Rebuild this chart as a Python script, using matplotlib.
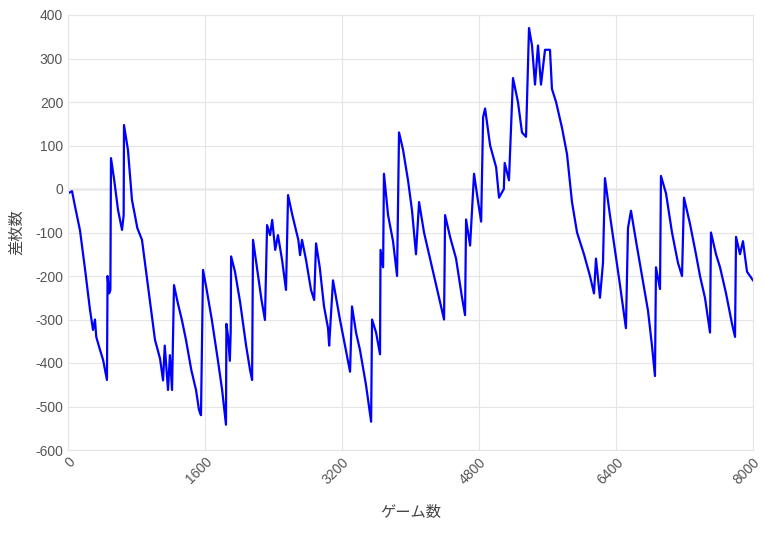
import matplotlib
matplotlib.use('Agg')
import matplotlib.pyplot as plt

plt.rcParams['font.family'] = ['Liberation Sans', 'Noto Sans CJK JP', 'DejaVu Sans']
plt.rcParams['axes.unicode_minus'] = False

# game count / coin difference
games = [0, 47, 82, 140, 200, 257, 292, 315, 330, 374, 410, 455, 462, 480, 495, 502, 540, 584, 631, 650, 654,
         700, 747, 810, 864, 940, 1016, 1075, 1110, 1130, 1168, 1190, 1215, 1238, 1280, 1330, 1378, 1440, 1495,
         1530, 1553, 1577, 1620, 1680, 1750, 1800, 1845, 1850, 1870, 1890, 1900, 1905, 1950, 2010, 2080, 2126,
         2150, 2161, 2210, 2260, 2300, 2325, 2360, 2385, 2420, 2452, 2500, 2546, 2570, 2620, 2690, 2710, 2733,
         2780, 2838, 2875, 2897, 2940, 2990, 3037, 3050, 3095, 3176, 3294, 3317, 3364, 3410, 3480, 3540, 3551,
         3598, 3644, 3650, 3680, 3690, 3738, 3796, 3843, 3866, 3913, 3971, 4018, 4064, 4100, 4158, 4228, 4298,
         4357, 4392, 4404, 4462, 4532, 4602, 4637, 4649, 4696, 4742, 4790, 4825, 4848, 4871, 4930, 5000, 5034,
         5090, 5100, 5150, 5197, 5255, 5302, 5349, 5384, 5419, 5454, 5489, 5524, 5571, 5629, 5652, 5700, 5770,
         5828, 5886, 5945, 6026, 6096, 6143, 6166, 6213, 6248, 6271, 6329, 6388, 6446, 6516, 6540, 6575, 6634,
         6704, 6774, 6820, 6855, 6867, 6914, 6925, 6984, 7054, 7124, 7171, 7194, 7264, 7334, 7381, 7439, 7498,
         7509, 7568, 7615, 7685, 7755, 7790, 7802, 7848, 7883, 7930, 8000]
diff = [-10, -5, -40, -95, -186, -278, -324, -300, -340, -370, -393, -439, -200, -240, -232, 71, 20, -48, -94, -60, 147,
        90, -25, -90, -117, -232, -347, -390, -440, -360, -462, -382, -462, -221, -260, -301, -347, -416, -462,
        -508, -520, -186, -232, -301, -393, -462, -542, -310, -340, -395, -330, -155, -190, -260, -360, -416,
        -439, -117, -186, -255, -301, -83, -106, -71, -140, -106, -163, -232, -14, -60, -117, -152, -117,
        -163, -232, -255, -125, -180, -270, -320, -360, -210, -300, -420, -270, -330, -370, -450, -535, -300,
        -330, -380, -140, -180, 35, -60, -120, -200, 130, 90, 20, -50, -150, -30, -100, -160, -220,
        -270, -300, -60, -110, -160, -250, -290, -70, -130, 35, -30, -75, 165, 185, 100, 50, -20,
        0, 60, 20, 255, 200, 130, 120, 370, 330, 240, 330, 240, 320, 320, 230, 200, 140,
        80, -30, -100, -150, -200, -240, -160, -250, -170, 25, -60, -140, -220, -320, -90, -50, -120,
        -200, -280, -360, -430, -180, -230, 30, -10, -100, -170, -200, -20, -80, -150, -200, -250, -330,
        -100, -150, -180, -240, -310, -340, -110, -150, -120, -190, -210]
x_ticks = [0, 1600, 3200, 4800, 6400, 8000]

fig = plt.figure(figsize=(7.65, 5.34), dpi=100)
ax = fig.add_axes([68 / 765, 84 / 534, 685 / 765, 435 / 534])
ax.plot(games, diff, color='#0000ff', linewidth=1.6)
ax.axhline(0, color='#bbbbbb', linewidth=1, zorder=1)

ax.set_xlim(0, 8000)
ax.set_ylim(-600, 400)
ax.set_yticks(range(-600, 401, 100))
ax.set_xticks(x_ticks)
ax.set_xticklabels([str(t) for t in x_ticks], rotation=45, ha='right', rotation_mode='anchor')
ax.grid(True, color='#e5e5e5', linewidth=0.8)
ax.tick_params(length=0, labelsize=10, colors='#555555')
for s in ax.spines.values():
    s.set_color('#e5e5e5')
ax.set_xlabel('ゲーム数', fontsize=11, color='#444444', labelpad=14)
ax.set_ylabel('差枚数', fontsize=11, color='#444444', labelpad=8)

fig.savefig('out.png', dpi=100)
